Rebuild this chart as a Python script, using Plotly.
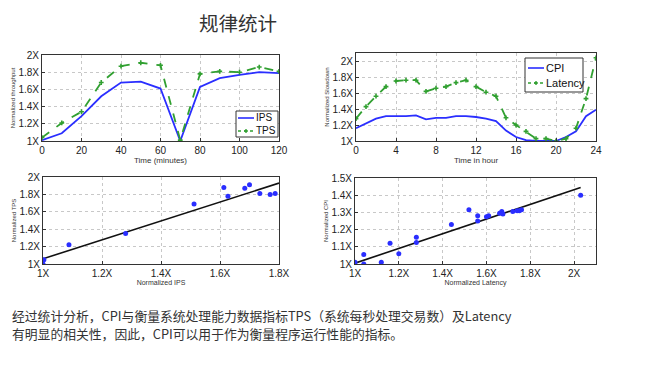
import plotly.graph_objects as go

# ---------------- data ----------------
time_min = [0, 10, 20, 30, 40, 50, 60, 70, 80, 90, 100, 110, 120]
ips = [1.01, 1.09, 1.29, 1.52, 1.68, 1.69, 1.61, 1.0, 1.63, 1.73, 1.77, 1.80, 1.79]
tps = [1.04, 1.21, 1.34, 1.68, 1.87, 1.91, 1.88, 1.01, 1.78, 1.81, 1.80, 1.86, 1.81]

hours = list(range(25))
cpi = [1.16, 1.22, 1.28, 1.31, 1.31, 1.31, 1.32, 1.27, 1.29, 1.29, 1.31, 1.31, 1.30,
       1.28, 1.25, 1.13, 1.05, 1.01, 1.0, 1.0, 1.0, 1.05, 1.12, 1.31, 1.39]
latency = [1.28, 1.43, 1.56, 1.68, 1.75, 1.76, 1.76, 1.62, 1.66, 1.68, 1.73, 1.76, 1.68,
           1.61, 1.56, 1.29, 1.20, 1.12, 1.03, 1.03, 1.0, 1.03, 1.16, 1.53, 2.04]

sc1_ips = [1.0, 1.003, 1.088, 1.28, 1.512, 1.613, 1.627, 1.684, 1.70, 1.735, 1.77, 1.787]
sc1_tps = [1.0, 1.05, 1.22, 1.35, 1.69, 1.88, 1.78, 1.87, 1.91, 1.81, 1.80, 1.81]
fit1_x = [1.0, 1.8]
fit1_slope, fit1_intercept = 1.0875, 1.06 - 1.0875

sc2_lat = [1.0, 1.04, 1.04, 1.12, 1.16, 1.2, 1.28, 1.28, 1.44, 1.52, 1.56, 1.56, 1.60,
           1.61, 1.66, 1.67, 1.675, 1.72, 1.74, 1.75, 1.76, 2.03]
sc2_cpi = [1.01, 1.055, 1.0, 1.01, 1.12, 1.06, 1.155, 1.125, 1.23, 1.315, 1.28, 1.25, 1.275,
           1.28, 1.295, 1.305, 1.29, 1.305, 1.31, 1.31, 1.315, 1.40]
fit2_x = [1.0, 2.03]
fit2_slope, fit2_intercept = 0.427, 1.005 - 0.427

xt_min = [0, 20, 40, 60, 80, 100, 120]
xt_hour = [0, 4, 8, 12, 16, 20, 24]
yt_1_2 = [1.0, 1.2, 1.4, 1.6, 1.8, 2.0]
yl_1_2 = ["1X", "1.2X", "1.4X", "1.6X", "1.8X", "2X"]
xt_ips = [1.0, 1.2, 1.4, 1.6, 1.8]
xl_ips = ["1X", "1.2X", "1.4X", "1.6X", "1.8X"]
xt_lat = [1.0, 1.2, 1.4, 1.6, 1.8, 2.0]
xl_lat = ["1X", "1.2X", "1.4X", "1.6X", "1.8X", "2X"]
yt_cpi = [1.0, 1.1, 1.2, 1.3, 1.4, 1.5]
yl_cpi = ["1X", "1.1X", "1.2X", "1.3X", "1.4X", "1.5X"]

legend1_names = ["IPS", "TPS"]
legend2_names = ["CPI", "Latency"]

title_text = "规律统计"
body_lines = ["经过统计分析，CPI与衡量系统处理能力数据指标TPS（系统每秒处理交易数）及Latency",
              "有明显的相关性，因此，CPI可以用于作为衡量程序运行性能的指标。"]

BLUE = "#2a2eff"
GREEN = "#31a031"
FONT = "Liberation Sans, Arial, sans-serif"

# page body has an 8px margin; compensate so pixel positions match the window
OFF = 8
W, H = 646 - 2 * OFF, 367 - 2 * OFF
def PX(x):
    return (x - OFF) / W
def PY(y):
    return 1 - (y - OFF) / H
def px_x(a, b):
    return [PX(a), PX(b)]
def px_y(top, bottom):
    return [PY(bottom), PY(top)]

fig = go.Figure()

# top-left
fig.add_trace(go.Scatter(x=time_min, y=ips, mode="lines", name=legend1_names[0],
                         line=dict(color=BLUE, width=1.8), xaxis="x", yaxis="y"))
fig.add_trace(go.Scatter(x=time_min, y=tps, mode="lines+markers", name=legend1_names[1],
                         line=dict(color=GREEN, width=1.8, dash="dash"),
                         marker=dict(symbol="cross", size=4, color=GREEN),
                         xaxis="x", yaxis="y"))
# top-right
fig.add_trace(go.Scatter(x=hours, y=cpi, mode="lines", name=legend2_names[0],
                         line=dict(color=BLUE, width=1.8), xaxis="x2", yaxis="y2"))
fig.add_trace(go.Scatter(x=hours, y=latency, mode="lines+markers", name=legend2_names[1],
                         line=dict(color=GREEN, width=1.8, dash="dash"),
                         marker=dict(symbol="cross", size=4, color=GREEN),
                         xaxis="x2", yaxis="y2"))
# bottom-left
fig.add_trace(go.Scatter(x=fit1_x, y=[fit1_intercept + fit1_slope * v for v in fit1_x],
                         mode="lines", line=dict(color="#111111", width=1.6),
                         xaxis="x3", yaxis="y3"))
fig.add_trace(go.Scatter(x=sc1_ips, y=sc1_tps, mode="markers",
                         marker=dict(color=BLUE, size=5), xaxis="x3", yaxis="y3"))
# bottom-right
fig.add_trace(go.Scatter(x=fit2_x, y=[fit2_intercept + fit2_slope * v for v in fit2_x],
                         mode="lines", line=dict(color="#111111", width=1.6),
                         xaxis="x4", yaxis="y4"))
fig.add_trace(go.Scatter(x=sc2_lat, y=sc2_cpi, mode="markers",
                         marker=dict(color=BLUE, size=5), xaxis="x4", yaxis="y4"))

def ax(domain, rng, tickvals, ticktext, title, anchor, tfs=7):
    return dict(domain=domain, range=rng, tickvals=tickvals, ticktext=ticktext,
                showline=True, mirror=True, linecolor="#333333", linewidth=1,
                ticks="inside", ticklen=3, tickcolor="#333333",
                showgrid=True, gridcolor="#c8c8c8", griddash="dot", gridwidth=1,
                zeroline=False, anchor=anchor, automargin=False,
                tickfont=dict(family=FONT, size=10, color="#222222"),
                title=dict(text=title, font=dict(family=FONT, size=tfs, color="#333333"), standoff=2))

lx1 = px_x(42, 279); ly1 = px_y(55, 141)
lx2 = px_x(356, 596); ly2 = px_y(53, 141)
lx3 = px_x(43, 279); ly3 = px_y(177, 264)
lx4 = px_x(355, 596); ly4 = px_y(178, 264)

# ---- hand-drawn legends (compact, MATLAB style) ----
shapes = []
annotations = []
def legend_box(x0, y0, x1, y1, names, rows, line_x0, line_x1, text_x, fsize):
    shapes.append(dict(type="rect", xref="paper", yref="paper",
                       x0=PX(x0), x1=PX(x1), y0=PY(y1), y1=PY(y0),
                       line=dict(color="#333333", width=1), fillcolor="white", layer="above"))
    styles = [(BLUE, "solid", False), (GREEN, "dash", True)]
    for name, ry, (col, dash, mk) in zip(names, rows, styles):
        shapes.append(dict(type="line", xref="paper", yref="paper",
                           x0=PX(line_x0), x1=PX(line_x1), y0=PY(ry), y1=PY(ry),
                           line=dict(color=col, width=1.6, dash="dot" if dash == "dash" else "solid"),
                           layer="above"))
        if mk:
            cx = (line_x0 + line_x1) / 2
            shapes.append(dict(type="line", xref="paper", yref="paper",
                               x0=PX(cx - 2), x1=PX(cx + 2), y0=PY(ry), y1=PY(ry),
                               line=dict(color=col, width=1.4), layer="above"))
            shapes.append(dict(type="line", xref="paper", yref="paper",
                               x0=PX(cx), x1=PX(cx), y0=PY(ry - 2), y1=PY(ry + 2),
                               line=dict(color=col, width=1.4), layer="above"))
        annotations.append(dict(text=name, x=PX(text_x), y=PY(ry), xref="paper", yref="paper",
                                showarrow=False, xanchor="left", yanchor="middle",
                                font=dict(family=FONT, size=fsize, color="#111111")))

legend_box(236, 111, 278, 137, legend1_names, [118, 131], 238, 254, 254, 10)
legend_box(525, 58, 583, 92, legend2_names, [68, 83], 528, 544, 544, 11)

annotations += [
    dict(text=title_text, x=PX(238), y=PY(22.5), xref="paper", yref="paper",
         showarrow=False, xanchor="center", yanchor="middle",
         font=dict(family="Noto Sans CJK SC", size=19.5, color="#333333")),
    dict(text=body_lines[0], x=PX(10), y=PY(315), xref="paper", yref="paper",
         showarrow=False, xanchor="left", yanchor="middle",
         font=dict(family="Noto Sans CJK SC", size=12.8, color="#333333")),
    dict(text=body_lines[1], x=PX(10), y=PY(333), xref="paper", yref="paper",
         showarrow=False, xanchor="left", yanchor="middle",
         font=dict(family="Noto Sans CJK SC", size=12.8, color="#333333")),
]

fig.update_layout(
    width=W, height=H, margin=dict(l=0, r=0, t=0, b=0, autoexpand=False),
    paper_bgcolor="white", plot_bgcolor="white",
    font=dict(family=FONT), showlegend=False,
    xaxis=ax(lx1, [0, 120], xt_min, [str(v) for v in xt_min], "Time (minutes)", "y", 8),
    yaxis=ax(ly1, [1, 2], yt_1_2, yl_1_2, "Normalized throughput", "x", 6),
    xaxis2=ax(lx2, [0, 24], xt_hour, [str(v) for v in xt_hour], "Time in hour", "y2", 8),
    yaxis2=ax(ly2, [1, 2.1], yt_1_2, yl_1_2, "Normalized Slowdown", "x2", 6),
    xaxis3=ax(lx3, [1, 1.8], xt_ips, xl_ips, "Normalized IPS", "y3", 7),
    yaxis3=ax(ly3, [1, 2], yt_1_2, yl_1_2, "Normalized TPS", "x3", 6),
    xaxis4=ax(lx4, [1, 2.1], xt_lat, xl_lat, "Normalized Latency", "y4", 7),
    yaxis4=ax(ly4, [1, 1.5], yt_cpi, yl_cpi, "Normalized CPI", "x4", 6),
    shapes=shapes,
    annotations=annotations,
)

fig.write_html("out.html")
